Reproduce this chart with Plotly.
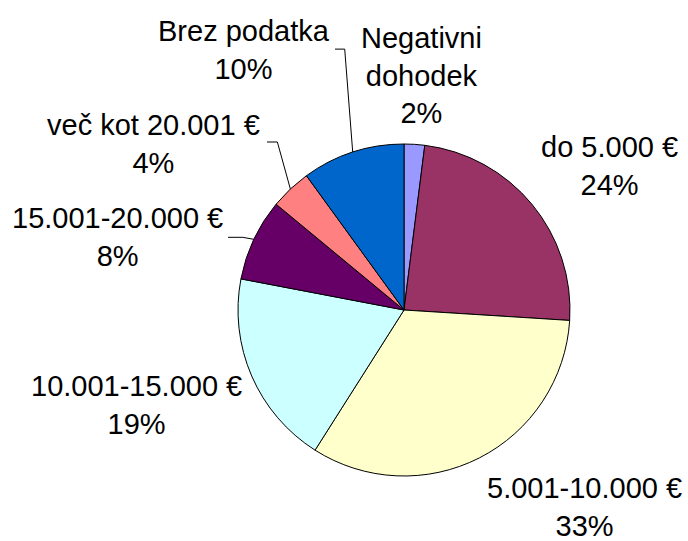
import numpy as np
import plotly.graph_objects as go

# data
labels = ["Negativni<br>dohodek", "do 5.000 €", "5.001-10.000 €", "10.001-15.000 €",
          "15.001-20.000 €", "več kot 20.001 €", "Brez podatka"]
values = [2, 24, 33, 19, 8, 4, 10]
colors = ["#9999FF", "#993366", "#FFFFCC", "#CCFFFF", "#660066", "#FF8080", "#0066CC"]

W, H = 688, 541
cx, cy, r = 404, 310, 166  # pie centre and radius in pixels

# label offsets from the slice's mid-edge point (pixels), and leader elbows
label_offsets = [(7, -69), (78, -38), (105, 49), (-115, 29), (-136, -2), (-137, -45), (-109, -102)]
leaders = {4: ((-11, -2), 228), 5: ((-13, -47), 267), 6: ((-8, -103), 335)}


def px(x, y):
    return x / W, 1 - y / H


fig = go.Figure()
fig.add_trace(go.Pie(
    labels=labels, values=values, sort=False, direction="clockwise", rotation=0,
    marker=dict(colors=colors, line=dict(color="black", width=1)),
    textinfo="none", hoverinfo="label+percent", showlegend=False,
    domain=dict(x=[(cx - r) / W, (cx + r) / W], y=[1 - (cy + r) / H, 1 - (cy - r) / H]),
))

total = sum(values)
cum = np.cumsum([0] + values)
for i, (lab, v) in enumerate(zip(labels, values)):
    mid = 2 * np.pi * (cum[i] + v / 2) / total
    ex, ey = cx + r * np.sin(mid), cy - r * np.cos(mid)
    dx, dy = label_offsets[i]
    ax, ay = px(ex + dx, ey + dy)
    fig.add_annotation(
        x=ax, y=ay, xref="paper", yref="paper", showarrow=False,
        text=f"{lab}<br>{round(100 * v / total)}%", align="center",
        xanchor="center", yanchor="middle",
        font=dict(family="Liberation Sans, Arial", size=29, color="black"),
    )
    if i in leaders:
        (bx, by), tx = leaders[i]
        p0, p1, p2 = px(ex, ey), px(ex + bx, ey + by), px(tx, ey + by)
        fig.add_shape(type="path", xref="paper", yref="paper",
                      path=f"M {p0[0]} {p0[1]} L {p1[0]} {p1[1]} L {p2[0]} {p2[1]}",
                      line=dict(color="black", width=1))

fig.update_layout(width=W, height=H, margin=dict(l=0, r=0, t=0, b=0),
                  paper_bgcolor="white", plot_bgcolor="white")
fig.write_html("out.html", config={"displayModeBar": False},
               post_script="document.body.style.margin='0';document.body.style.overflow='hidden';")
